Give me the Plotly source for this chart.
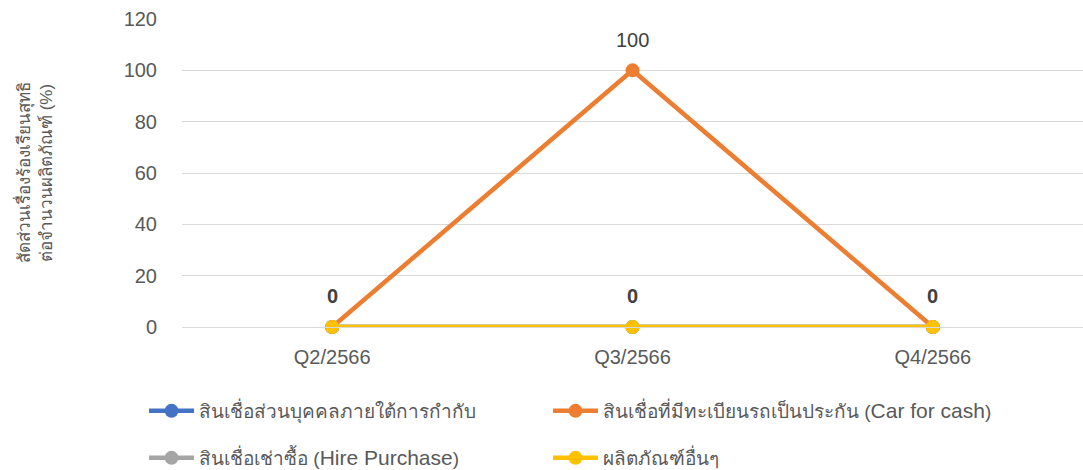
import plotly.graph_objects as go

categories = ["Q2/2566", "Q3/2566", "Q4/2566"]
series_names = [
    "สินเชื่อส่วนบุคคลภายใต้การกำกับ",
    "สินเชื่อที่มีทะเบียนรถเป็นประกัน (<span style='font-size:21px'>Car for cash</span>)",
    "สินเชื่อเช่าซื้อ (<span style='font-size:21px'>Hire Purchase</span>)",
    "ผลิตภัณฑ์อื่นๆ",
]
personal_loan = [0, 0, 0]
car_for_cash = [0, 100, 0]
hire_purchase = [0, 0, 0]
other_products = [0, 0, 0]
colors = ["#4472C4", "#ED7D31", "#A5A5A5", "#FFC000"]
legends = ["legend", "legend2", "legend3", "legend4"]
values = [personal_loan, car_for_cash, hire_purchase, other_products]

fig = go.Figure()
for name, vals, col, lg in zip(series_names, values, colors, legends):
    fig.add_trace(go.Scatter(
        x=categories, y=vals, name=name, mode="lines+markers",
        line=dict(color=col, width=4.5), marker=dict(color=col, size=14),
        legend=lg, cliponaxis=False, showlegend=True,
    ))

label_font = dict(size=20, color="#404040", family="Liberation Sans, Arial, sans-serif")
for c, v in zip(categories, car_for_cash):
    if v != 0:
        fig.add_annotation(x=c, y=v, text=str(v), showarrow=False, yshift=30, font=label_font)
for c, v in zip(categories, other_products):
    fig.add_annotation(x=c, y=v, text="<b>%d</b>" % v, showarrow=False, yshift=31, font=label_font)

legend_common = dict(orientation="h", xref="container", yref="container",
                     xanchor="left", yanchor="middle", itemwidth=45,
                     font=dict(size=19, color="#595959"), bgcolor="rgba(0,0,0,0)")
col1_x, col2_x = 0.133, 0.506
row1_y, row2_y = 1 - 411 / 470, 1 - 458 / 470

fig.update_layout(
    width=1083, height=470, showlegend=True,
    margin=dict(l=182, r=0, t=19, b=143, autoexpand=False),
    paper_bgcolor="white", plot_bgcolor="white",
    font=dict(family="Liberation Sans, Noto Sans, sans-serif", color="#595959", size=16),
    xaxis=dict(range=[-0.5, 2.5], showgrid=False, showline=True, linecolor="#D9D9D9",
               ticks="", tickfont=dict(size=20, color="#595959"), ticklabelstandoff=12),
    yaxis=dict(range=[0, 120], dtick=20, showgrid=True, gridcolor="#D9D9D9", gridwidth=1,
               zeroline=False, ticks="", tickfont=dict(size=20, color="#595959"),
               ticklabelstandoff=24,
               title=dict(text="สัดส่วนเรื่องร้องเรียนสุทธิ<br>ต่อจำนวนผลิตภัณฑ์ (%)",
                          font=dict(size=17, color="#595959"), standoff=66)),
    legend=dict(x=col1_x, y=row1_y, **legend_common),
    legend2=dict(x=col2_x, y=row1_y, **legend_common),
    legend3=dict(x=col1_x, y=row2_y, **legend_common),
    legend4=dict(x=col2_x, y=row2_y, **legend_common),
)

fig.write_html("out.html", config={"displayModeBar": False},
               post_script="document.body.style.margin='0px';")
